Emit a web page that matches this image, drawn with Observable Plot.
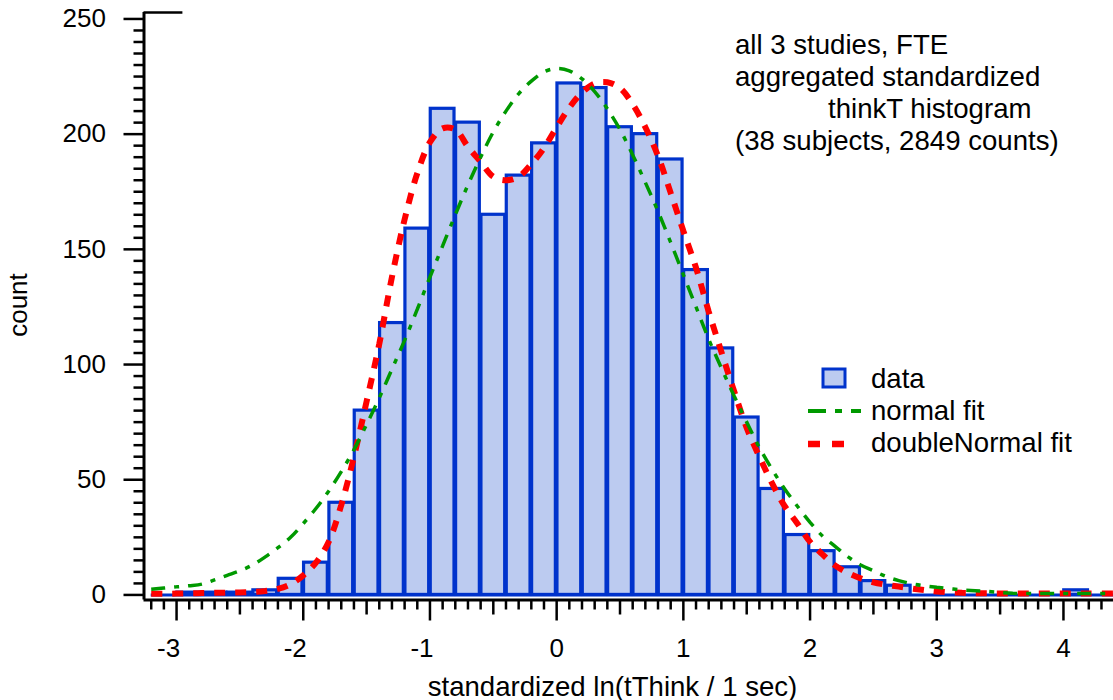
<!DOCTYPE html>
<html>
<head>
<meta charset="utf-8">
<script src="https://cdn.jsdelivr.net/npm/d3@7"></script>
<script src="https://cdn.jsdelivr.net/npm/@observablehq/plot@0.6"></script>
<style>
  html, body { margin: 0; padding: 0; background: #ffffff; }
  #chart { width: 1113px; height: 700px; }
</style>
</head>
<body>
<div id="chart"></div>
<script>
// ---------- data ----------
const binWidth = 0.2;
const binStart = [-3.2, -3.0, -2.8, -2.6, -2.4, -2.2, -2.0, -1.8, -1.6, -1.4,
                  -1.2, -1.0, -0.8, -0.6, -0.4, -0.2, 0.0, 0.2, 0.4, 0.6,
                  0.8, 1.0, 1.2, 1.4, 1.6, 1.8, 2.0, 2.2, 2.4, 2.6,
                  2.8, 3.0, 3.2, 3.4, 3.6, 3.8, 4.0, 4.2];
const counts   = [0, 1, 1, 1, 2, 7, 14, 40, 80, 118,
                  159, 211, 205, 165, 182, 196, 222, 220, 203, 200,
                  189, 141, 107, 77, 46, 26, 19, 12, 6, 4,
                  0, 0, 0, 0, 0, 0, 2, 0];

const fitX = [-3.2, -3.1, -3.0, -2.9, -2.8, -2.7, -2.6, -2.5, -2.4, -2.3,
              -2.2, -2.1, -2.0, -1.9, -1.8, -1.7, -1.6, -1.5, -1.4, -1.3,
              -1.2, -1.1, -1.0, -0.9, -0.8, -0.7, -0.6, -0.5, -0.4, -0.3,
              -0.2, -0.1, 0.0, 0.1, 0.2, 0.3, 0.4, 0.5, 0.6, 0.7,
              0.8, 0.9, 1.0, 1.1, 1.2, 1.3, 1.4, 1.5, 1.6, 1.7,
              1.8, 1.9, 2.0, 2.1, 2.2, 2.3, 2.4, 2.5, 2.6, 2.7,
              2.8, 2.9, 3.0, 3.2, 3.4, 3.6, 3.8, 4.0, 4.2, 4.4];
const normalFit = [2.5, 3, 3.5, 4, 4.7, 6.5, 8.5, 10.5, 13, 16.5,
                   20.5, 25, 31, 37.5, 45, 53.5, 63, 74, 85.5, 98,
                   110.5, 124, 138, 151.5, 165, 178, 190, 201, 210, 217.5,
                   223, 227, 228.5, 227.5, 224, 218.5, 211, 202, 191, 179,
                   166.5, 153, 139, 125, 111, 98.5, 86.5, 75, 64, 54.5,
                   46, 38.5, 31.5, 25.5, 21, 16.5, 13, 10.5, 8, 6.2,
                   4.9, 4, 3.3, 2.2, 1.5, 0.7, 0.6, 0.6, 0.6, 0.6];
const doubleNormalFit = [0.5, 0.5, 0.6, 0.7, 0.8, 0.9, 1.0, 1.1, 1.3, 1.7,
                         2.6, 4.6, 8.5, 14, 23, 39, 60, 84, 109, 138,
                         163, 183, 196.5, 202.5, 202, 194.5, 188, 181.5, 180, 181.5,
                         187, 194, 203, 211.5, 218, 222, 222.5, 220, 213, 203,
                         190.5, 174.5, 158, 142, 123, 105.5, 88.5, 72.5, 60, 48.5,
                         38.5, 31, 23, 17.5, 12.7, 9.5, 7.2, 5.5, 4.4, 3.6,
                         2.8, 2.1, 1.5, 0.9, 0.7, 0.6, 0.6, 0.6, 0.6, 0.6];

const xMajorTicks = [-3, -2, -1, 0, 1, 2, 3, 4];
const xMajorLabels = ["-3", "-2", "-1", "0", "1", "2", "3", "4"];
const xMidTicks = [-2.5, -1.5, -0.5, 0.5, 1.5, 2.5, 3.5];
const yMajorTicks = [0, 50, 100, 150, 200, 250];
const yMajorLabels = ["0", "50", "100", "150", "200", "250"];

const annotationLines = ["all 3 studies, FTE", "aggregated standardized", "thinkT histogram", "(38 subjects, 2849 counts)"];
const legendLabels = ["data", "normal fit", "doubleNormal fit"];
const xTitle = "standardized ln(tThink / 1 sec)";
const yTitle = "count";

// ---------- tables ----------
const bins = binStart.map((x0, i) => ({x1: x0, x2: +(x0 + binWidth).toFixed(2), count: counts[i]}));
const fits = fitX.map((x, i) => ({x, normal: normalFit[i], dbl: doubleNormalFit[i]}));
const xMinorTicks = d3.range(-32, 44).filter(k => k % 5 !== 0).map(k => k / 10);
const yMinorTicks = d3.range(0, 251, 5).filter(v => v % 50 !== 0);

// ---------- style ----------
const FONT = "'Liberation Sans', Arial, Helvetica, sans-serif";
const blue = "#0033cc", lightBlue = "#bccbf0", green = "#009900", red = "#ff0000";
const xDomain = [-3.257, 4.395];
const yDomain = [-2.2, 252.8];
const topCapEnd = -2.95;

const xLabel = d => xMajorLabels[xMajorTicks.indexOf(d)];
const yLabel = d => yMajorLabels[yMajorTicks.indexOf(d)];

const plot = Plot.plot({
  width: 1113,
  height: 700,
  marginLeft: 143.5,
  marginRight: 0,
  marginTop: 12,
  marginBottom: 100.5,
  x: {domain: xDomain},
  y: {domain: yDomain},
  style: {fontFamily: FONT, fontSize: "26px", background: "#ffffff", color: "#000000", overflow: "visible"},
  marks: [
    Plot.rect(bins, {x1: "x1", x2: "x2", y1: 0, y2: "count", insetLeft: 0.8, insetRight: 0.8,
                     fill: lightBlue, stroke: blue, strokeWidth: 3.2}),
    Plot.ruleY([0], {x1: binStart[0], x2: binStart[binStart.length - 1] + binWidth, stroke: blue, strokeWidth: 3}),
    Plot.line(fits, {x: "x", y: "dbl", stroke: red, strokeWidth: 6, strokeDasharray: "11,10",
                     strokeLinecap: "butt", strokeLinejoin: "miter", curve: "catmull-rom"}),
    Plot.line(fits, {x: "x", y: "normal", stroke: green, strokeWidth: 3.5, strokeDasharray: "14,9,5,9",
                     strokeLinecap: "butt", strokeLinejoin: "miter", curve: "catmull-rom"}),
    // axis lines
    Plot.ruleY([yDomain[0]], {stroke: "#000", strokeWidth: 3}),
    Plot.ruleX([xDomain[0]], {stroke: "#000", strokeWidth: 3}),
    Plot.ruleY([yDomain[1]], {x1: xDomain[0], x2: topCapEnd, stroke: "#000", strokeWidth: 2.5}),
    // x ticks
    Plot.axisX(xMajorTicks, {tickSize: 21, fill: "none", strokeWidth: 2.5, label: null}),
    Plot.axisX(xMidTicks, {tickSize: 15, fill: "none", strokeWidth: 2.5, label: null}),
    Plot.axisX(xMinorTicks, {tickSize: 10, fill: "none", strokeWidth: 2.5, label: null}),
    Plot.axisX(xMajorTicks.filter(d => d < 0), {tickSize: 0, tickPadding: 39, tickFormat: xLabel, dx: -8, label: null, fontSize: 26}),
    Plot.axisX(xMajorTicks.filter(d => d >= 0), {tickSize: 0, tickPadding: 39, tickFormat: xLabel, label: null, fontSize: 26}),
    // y ticks
    Plot.axisY(yMajorTicks, {tickSize: 20, tickPadding: 18, strokeWidth: 2.5, tickFormat: yLabel, label: null, fontSize: 26}),
    Plot.axisY(yMinorTicks, {tickSize: 10, fill: "none", strokeWidth: 2.5, label: null})
  ]
});

document.getElementById("chart").appendChild(plot);

// ---------- titles, annotation and legend ----------
const svg = d3.select(plot);
const g = svg.append("g").attr("font-family", FONT).attr("font-size", 27.6)
  .attr("fill", "#000").attr("text-anchor", "start");

g.append("text").attr("x", 612.5).attr("y", 696).attr("text-anchor", "middle").text(xTitle);
g.append("text").attr("transform", "translate(26.5,305) rotate(-90)").attr("text-anchor", "middle")
  .attr("font-size", 26).text(yTitle);

const annoX = [735, 735, 828, 735];
annotationLines.forEach((t, i) => {
  g.append("text").attr("x", annoX[i]).attr("y", 54 + 32 * i).text(t);
});

// legend
g.append("rect").attr("x", 823).attr("y", 369).attr("width", 22).attr("height", 18)
  .attr("fill", lightBlue).attr("stroke", blue).attr("stroke-width", 3);
g.append("line").attr("x1", 808).attr("x2", 861).attr("y1", 411).attr("y2", 411)
  .attr("stroke", green).attr("stroke-width", 4).attr("stroke-dasharray", "18,9,7,9");
g.append("line").attr("x1", 808).attr("x2", 845).attr("y1", 444).attr("y2", 444)
  .attr("stroke", red).attr("stroke-width", 6.5).attr("stroke-dasharray", "12,12");
legendLabels.forEach((t, i) => {
  g.append("text").attr("x", 871).attr("y", 388 + 32 * i).text(t);
});
</script>
</body>
</html>
